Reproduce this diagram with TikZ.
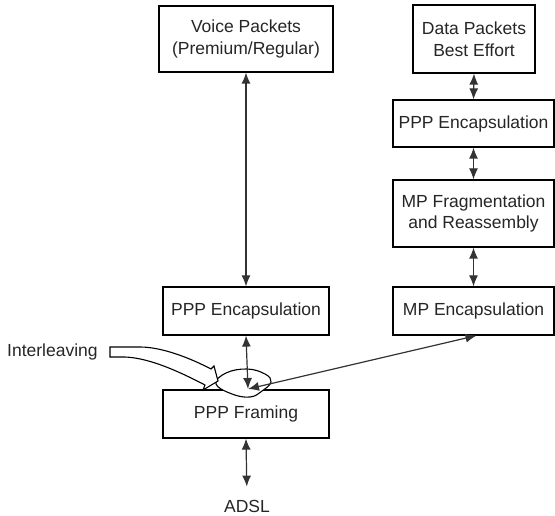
\documentclass[tikz,border=0pt]{standalone}
\usepackage{fontspec}
\setmainfont{Liberation Sans}
\usetikzlibrary{arrows.meta}
\tikzset{
  box/.style={draw=black, line width=1.2pt, fill=white, align=center, inner sep=0pt, text=black!85},
  link/.style={draw=black!80, line width=1.2pt, {Latex[length=11pt,width=9pt]}-{Latex[length=11pt,width=9pt]}},
  lbl/.style={inner sep=0pt, text=black!85, align=center}
}
\begin{document}
\begin{tikzpicture}[x=1pt, y=-1pt, font=\fontsize{17.5}{21.5}\selectfont]
\useasboundingbox (0,0) rectangle (555,516);
% boxes
\node[box, minimum width=174pt, minimum height=66pt] (voice) at (246,39) {Voice Packets\\(Premium/Regular)};
\node[box, minimum width=122pt, minimum height=68pt] (data) at (474,39) {Data Packets\\Best Effort};
\node[box, minimum width=161pt, minimum height=47pt] (pppr) at (473.5,123.5) {PPP Encapsulation};
\node[box, minimum width=161pt, minimum height=67pt] (mpf) at (473.5,213.5) {MP Fragmentation\\and Reassembly};
\node[box, minimum width=161pt, minimum height=48pt] (mpe) at (473.5,311) {MP Encapsulation};
\node[box, minimum width=166pt, minimum height=48pt] (pppl) at (246,311) {PPP Encapsulation};
\node[box, minimum width=166pt, minimum height=48pt] (frame) at (246,414) {PPP Framing};
\node[lbl] (adsl) at (247,506) {ADSL};
\node[lbl, anchor=west] (inter) at (7,352) {Interleaving};
% blob
\draw[line width=1.1pt, fill=white] plot[smooth cycle, tension=0.7] coordinates
  {(216,384) (226,373) (247,369) (265,374) (271,382) (262,391) (250,397) (232,394)};
\coordinate (mix) at (248,389);
% hollow interleaving arrow
\draw[line width=1.1pt, fill=white, line join=miter]
  (110,347) -- (140,347) .. controls (162,347) and (190,358) .. (211,369)
  -- (214,366) -- (218,381) -- (203,390) -- (205,385)
  .. controls (180,372) and (150,358) .. (125,357) -- (110,357) -- cycle;
% connectors
\draw[link] (voice.south) -- (pppl.north);
\draw[link] (pppl.south) -- (mix);
\draw[link, shorten >=13pt] (frame.south) -- (adsl.north);
\draw[link] (data.south) -- (pppr.north);
\draw[link] (pppr.south) -- (mpf.north);
\draw[link] (mpf.south) -- (mpe.north);
\draw[link] (mix) -- ([xshift=3pt]mpe.south);
\end{tikzpicture}
\end{document}
